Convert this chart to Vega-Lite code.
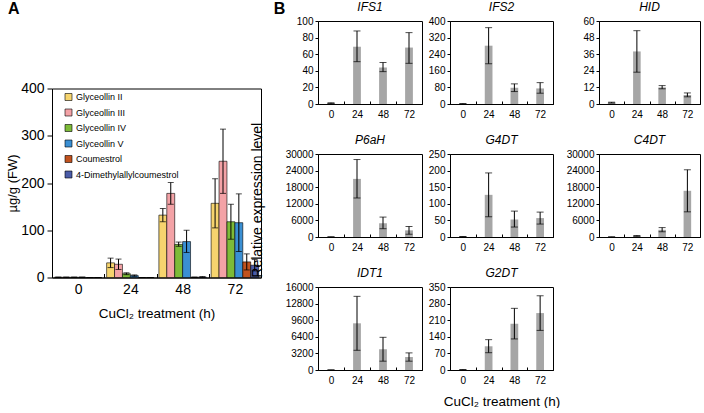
{
  "$schema": "https://vega.github.io/schema/vega-lite/v6.json",
  "padding": {"left": 5, "top": 0, "right": 0, "bottom": 0},
  "config": {
    "font": "Liberation Sans",
    "view": {"stroke": "#000", "strokeWidth": 1},
    "axis": {"grid": false, "domainColor": "#000", "domainWidth": 1, "tickColor": "#000", "labelColor": "#000", "titleColor": "#000", "titleFontWeight": "normal", "labelFontSize": 10, "titleFontSize": 13.5},
    "axisY": {"tickSize": 3, "labelPadding": 2, "labelOverlap": false},
    "axisX": {"tickSize": -3, "labelPadding": 8, "labelAngle": 0, "tickBand": "extent", "titlePadding": 9},
    "title": {"color": "#000", "fontSize": 12, "fontStyle": "italic", "fontWeight": "normal", "offset": 2, "anchor": "middle"},
    "legend": {"labelFontSize": 9, "labelColor": "#000", "symbolType": "square", "symbolSize": 49, "symbolStrokeColor": "#000", "symbolStrokeWidth": 0.6, "rowPadding": 4.5, "labelOffset": 3, "padding": 0}
  },
  "datasets": {
    "a": [
      {"t": 0, "c": "Glyceollin II", "m": 0.5, "lo": 0, "hi": 1},
      {"t": 0, "c": "Glyceollin III", "m": 0.5, "lo": 0, "hi": 1},
      {"t": 0, "c": "Glyceollin IV", "m": 0.5, "lo": 0, "hi": 1},
      {"t": 0, "c": "Glyceollin V", "m": 0.5, "lo": 0, "hi": 1},
      {"t": 0, "c": "Coumestrol", "m": 0, "lo": 0, "hi": 0},
      {"t": 0, "c": "4-Dimethylallylcoumestrol", "m": 0, "lo": 0, "hi": 0},
      {"t": 24, "c": "Glyceollin II", "m": 31, "lo": 21, "hi": 41},
      {"t": 24, "c": "Glyceollin III", "m": 28, "lo": 17, "hi": 39},
      {"t": 24, "c": "Glyceollin IV", "m": 8, "lo": 6, "hi": 10},
      {"t": 24, "c": "Glyceollin V", "m": 4, "lo": 2.5, "hi": 5.5},
      {"t": 24, "c": "Coumestrol", "m": 0, "lo": 0, "hi": 0},
      {"t": 24, "c": "4-Dimethylallylcoumestrol", "m": 0, "lo": 0, "hi": 0},
      {"t": 48, "c": "Glyceollin II", "m": 132, "lo": 118, "hi": 146},
      {"t": 48, "c": "Glyceollin III", "m": 178, "lo": 155, "hi": 201},
      {"t": 48, "c": "Glyceollin IV", "m": 70, "lo": 66, "hi": 75},
      {"t": 48, "c": "Glyceollin V", "m": 76, "lo": 53, "hi": 100},
      {"t": 48, "c": "Coumestrol", "m": 0.5, "lo": 0, "hi": 1},
      {"t": 48, "c": "4-Dimethylallylcoumestrol", "m": 1, "lo": 0, "hi": 2},
      {"t": 72, "c": "Glyceollin II", "m": 157, "lo": 105, "hi": 209},
      {"t": 72, "c": "Glyceollin III", "m": 246, "lo": 178, "hi": 314},
      {"t": 72, "c": "Glyceollin IV", "m": 118, "lo": 81, "hi": 155},
      {"t": 72, "c": "Glyceollin V", "m": 116, "lo": 55, "hi": 177},
      {"t": 72, "c": "Coumestrol", "m": 33, "lo": 16, "hi": 50},
      {"t": 72, "c": "4-Dimethylallylcoumestrol", "m": 26, "lo": 14, "hi": 38}
    ],
    "b": [
      {"g": "IFS1", "t": 0, "m": 1, "lo": 0.5, "hi": 1.5},
      {"g": "IFS1", "t": 24, "m": 69, "lo": 51, "hi": 88},
      {"g": "IFS1", "t": 48, "m": 44, "lo": 39, "hi": 50},
      {"g": "IFS1", "t": 72, "m": 68, "lo": 49, "hi": 86},
      {"g": "IFS2", "t": 0, "m": 1, "lo": 0, "hi": 2},
      {"g": "IFS2", "t": 24, "m": 281, "lo": 194, "hi": 368},
      {"g": "IFS2", "t": 48, "m": 78, "lo": 60, "hi": 97},
      {"g": "IFS2", "t": 72, "m": 75, "lo": 52, "hi": 103},
      {"g": "HID", "t": 0, "m": 1, "lo": 0.7, "hi": 1.3},
      {"g": "HID", "t": 24, "m": 38, "lo": 23, "hi": 53},
      {"g": "HID", "t": 48, "m": 12, "lo": 11, "hi": 13.3},
      {"g": "HID", "t": 72, "m": 6.5, "lo": 5.2, "hi": 8},
      {"g": "P6aH", "t": 0, "m": 30, "lo": 0, "hi": 60},
      {"g": "P6aH", "t": 24, "m": 21000, "lo": 14100, "hi": 28000},
      {"g": "P6aH", "t": 48, "m": 5000, "lo": 3000, "hi": 7200},
      {"g": "P6aH", "t": 72, "m": 2400, "lo": 1000, "hi": 3800},
      {"g": "G4DT", "t": 0, "m": 1, "lo": 0.5, "hi": 1.5},
      {"g": "G4DT", "t": 24, "m": 127, "lo": 61, "hi": 193},
      {"g": "G4DT", "t": 48, "m": 53, "lo": 30, "hi": 78},
      {"g": "G4DT", "t": 72, "m": 57, "lo": 39, "hi": 75},
      {"g": "C4DT", "t": 0, "m": 20, "lo": 0, "hi": 40},
      {"g": "C4DT", "t": 24, "m": 400, "lo": 250, "hi": 550},
      {"g": "C4DT", "t": 48, "m": 2600, "lo": 1900, "hi": 3400},
      {"g": "C4DT", "t": 72, "m": 16700, "lo": 9100, "hi": 24300},
      {"g": "IDT1", "t": 0, "m": 10, "lo": 0, "hi": 20},
      {"g": "IDT1", "t": 24, "m": 9000, "lo": 3800, "hi": 14200},
      {"g": "IDT1", "t": 48, "m": 4000, "lo": 1700, "hi": 6300},
      {"g": "IDT1", "t": 72, "m": 2500, "lo": 1700, "hi": 3300},
      {"g": "G2DT", "t": 0, "m": 1, "lo": 0, "hi": 2},
      {"g": "G2DT", "t": 24, "m": 100, "lo": 73, "hi": 128},
      {"g": "G2DT", "t": 48, "m": 195, "lo": 131, "hi": 260},
      {"g": "G2DT", "t": 72, "m": 240, "lo": 167, "hi": 313}
    ]
  },
  "columns": 2,
  "align": "none",
  "spacing": -12,
  "concat": [
    {
      "spacing": 58.5,
      "resolve": {"scale": {"color": "independent"}, "legend": {"color": "independent"}},
      "vconcat": [
        {
          "width": 209, "height": 1,
          "view": {"stroke": null},
          "title": {"text": "A", "anchor": "start", "frame": "group", "fontSize": 16, "fontWeight": "bold", "fontStyle": "normal", "offset": 4, "dx": -44},
          "data": {"values": []},
          "mark": {"type": "text"},
          "encoding": {"text": {"field": "lab", "type": "nominal"}}
        },
        {
          "width": 209, "height": 189,
          "data": {"name": "a"},
          "encoding": {
            "x": {"field": "t", "type": "ordinal", "title": "CuCl₂ treatment (h)", "scale": {"paddingInner": 0, "paddingOuter": 0},
                  "axis": {"labelFontSize": 14, "titleFontSize": 13.5, "tickSize": -4, "labelPadding": 9, "titlePadding": 10}},
            "xOffset": {"field": "c", "type": "nominal", "sort": ["Glyceollin II", "Glyceollin III", "Glyceollin IV", "Glyceollin V", "Coumestrol", "4-Dimethylallylcoumestrol"], "scale": {"paddingInner": 0, "paddingOuter": 0.3}}
          },
          "layer": [
            {
              "mark": {"type": "bar", "stroke": "#000", "strokeWidth": 0.6},
              "encoding": {
                "y": {"field": "m", "type": "quantitative", "title": "µg/g (FW)", "scale": {"domain": [0, 400], "nice": false},
                      "axis": {"values": [0, 100, 200, 300, 400], "labelFontSize": 14, "titleFontSize": 13, "tickSize": 5, "labelPadding": 3, "minExtent": 31, "maxExtent": 31, "titlePadding": 2}},
                "color": {"field": "c", "type": "nominal", "title": null,
                          "scale": {"domain": ["Glyceollin II", "Glyceollin III", "Glyceollin IV", "Glyceollin V", "Coumestrol", "4-Dimethylallylcoumestrol"],
                                    "range": ["#F6D46E", "#F3A2A6", "#7DBB38", "#3A8FD3", "#C1521E", "#4B5CA8"]},
                          "legend": {"orient": "none", "legendX": 12, "legendY": 4}}
              }
            },
            {
              "mark": {"type": "rule", "color": "#000", "strokeWidth": 1},
              "encoding": {"y": {"field": "lo", "type": "quantitative", "title": "µg/g (FW)", "axis": {"values": [0, 100, 200, 300, 400], "labelFontSize": 14, "titleFontSize": 13, "tickSize": 5, "labelPadding": 3, "minExtent": 31, "maxExtent": 31, "titlePadding": 2}}, "y2": {"field": "hi"}}
            },
            {
              "mark": {"type": "tick", "color": "#000", "size": 6, "thickness": 1},
              "encoding": {"y": {"field": "lo", "type": "quantitative", "title": "µg/g (FW)", "axis": {"values": [0, 100, 200, 300, 400], "labelFontSize": 14, "titleFontSize": 13, "tickSize": 5, "labelPadding": 3, "minExtent": 31, "maxExtent": 31, "titlePadding": 2}}}
            },
            {
              "mark": {"type": "tick", "color": "#000", "size": 6, "thickness": 1},
              "encoding": {"y": {"field": "hi", "type": "quantitative", "title": "µg/g (FW)", "axis": {"values": [0, 100, 200, 300, 400], "labelFontSize": 14, "titleFontSize": 13, "tickSize": 5, "labelPadding": 3, "minExtent": 31, "maxExtent": 31, "titlePadding": 2}}}
            }
          ]
        }
      ]
    },
    {
      "title": {"text": "B", "anchor": "start", "frame": "bounds", "fontSize": 16, "fontWeight": "bold", "fontStyle": "normal", "offset": -16, "dx": 23},
      "vconcat": [
        {
          "title": {"text": "Relative expression level", "orient": "left", "anchor": "middle", "fontSize": 14, "fontStyle": "normal", "offset": 20, "dx": 4},
          "columns": 3,
          "align": "each",
          "spacing": {"row": 13, "column": 4},
          "concat": [
            {
              "width": 104, "height": 83, "title": "IFS1", "data": {"name": "b"},
              "transform": [{"filter": "datum.g === 'IFS1'"}],
              "encoding": {"x": {"field": "t", "type": "ordinal", "title": null, "scale": {"paddingInner": 0, "paddingOuter": 0}}},
              "layer": [
                {"mark": {"type": "bar", "color": "#A6A6A6", "width": {"band": 0.3}},
                 "encoding": {"y": {"field": "m", "type": "quantitative", "title": null, "scale": {"domain": [0, 100], "nice": false}, "axis": {"values": [0, 20, 40, 60, 80, 100], "format": "d"}}}},
                {"mark": {"type": "rule", "color": "#000", "strokeWidth": 1}, "encoding": {"y": {"field": "lo", "type": "quantitative", "title": null, "axis": {"values": [0, 20, 40, 60, 80, 100], "format": "d"}}, "y2": {"field": "hi"}}},
                {"mark": {"type": "tick", "color": "#000", "size": 7, "thickness": 1}, "encoding": {"y": {"field": "lo", "type": "quantitative", "title": null, "axis": {"values": [0, 20, 40, 60, 80, 100], "format": "d"}}}},
                {"mark": {"type": "tick", "color": "#000", "size": 7, "thickness": 1}, "encoding": {"y": {"field": "hi", "type": "quantitative", "title": null, "axis": {"values": [0, 20, 40, 60, 80, 100], "format": "d"}}}}
              ]
            },
            {
              "width": 103, "height": 83, "title": "IFS2", "data": {"name": "b"},
              "transform": [{"filter": "datum.g === 'IFS2'"}],
              "encoding": {"x": {"field": "t", "type": "ordinal", "title": null, "scale": {"paddingInner": 0, "paddingOuter": 0}}},
              "layer": [
                {"mark": {"type": "bar", "color": "#A6A6A6", "width": {"band": 0.3}},
                 "encoding": {"y": {"field": "m", "type": "quantitative", "title": null, "scale": {"domain": [0, 400], "nice": false}, "axis": {"values": [0, 80, 160, 240, 320, 400], "format": "d"}}}},
                {"mark": {"type": "rule", "color": "#000", "strokeWidth": 1}, "encoding": {"y": {"field": "lo", "type": "quantitative", "title": null, "axis": {"values": [0, 80, 160, 240, 320, 400], "format": "d"}}, "y2": {"field": "hi"}}},
                {"mark": {"type": "tick", "color": "#000", "size": 7, "thickness": 1}, "encoding": {"y": {"field": "lo", "type": "quantitative", "title": null, "axis": {"values": [0, 80, 160, 240, 320, 400], "format": "d"}}}},
                {"mark": {"type": "tick", "color": "#000", "size": 7, "thickness": 1}, "encoding": {"y": {"field": "hi", "type": "quantitative", "title": null, "axis": {"values": [0, 80, 160, 240, 320, 400], "format": "d"}}}}
              ]
            },
            {
              "width": 101, "height": 83, "title": "HID", "data": {"name": "b"},
              "transform": [{"filter": "datum.g === 'HID'"}],
              "encoding": {"x": {"field": "t", "type": "ordinal", "title": null, "scale": {"paddingInner": 0, "paddingOuter": 0}}},
              "layer": [
                {"mark": {"type": "bar", "color": "#A6A6A6", "width": {"band": 0.3}},
                 "encoding": {"y": {"field": "m", "type": "quantitative", "title": null, "scale": {"domain": [0, 60], "nice": false}, "axis": {"values": [0, 12, 24, 36, 48, 60], "format": "d"}}}},
                {"mark": {"type": "rule", "color": "#000", "strokeWidth": 1}, "encoding": {"y": {"field": "lo", "type": "quantitative", "title": null, "axis": {"values": [0, 12, 24, 36, 48, 60], "format": "d"}}, "y2": {"field": "hi"}}},
                {"mark": {"type": "tick", "color": "#000", "size": 7, "thickness": 1}, "encoding": {"y": {"field": "lo", "type": "quantitative", "title": null, "axis": {"values": [0, 12, 24, 36, 48, 60], "format": "d"}}}},
                {"mark": {"type": "tick", "color": "#000", "size": 7, "thickness": 1}, "encoding": {"y": {"field": "hi", "type": "quantitative", "title": null, "axis": {"values": [0, 12, 24, 36, 48, 60], "format": "d"}}}}
              ]
            },
            {
              "width": 104, "height": 83, "title": "P6aH", "data": {"name": "b"},
              "transform": [{"filter": "datum.g === 'P6aH'"}],
              "encoding": {"x": {"field": "t", "type": "ordinal", "title": null, "scale": {"paddingInner": 0, "paddingOuter": 0}}},
              "layer": [
                {"mark": {"type": "bar", "color": "#A6A6A6", "width": {"band": 0.3}},
                 "encoding": {"y": {"field": "m", "type": "quantitative", "title": null, "scale": {"domain": [0, 30000], "nice": false}, "axis": {"values": [0, 6000, 12000, 18000, 24000, 30000], "format": "d"}}}},
                {"mark": {"type": "rule", "color": "#000", "strokeWidth": 1}, "encoding": {"y": {"field": "lo", "type": "quantitative", "title": null, "axis": {"values": [0, 6000, 12000, 18000, 24000, 30000], "format": "d"}}, "y2": {"field": "hi"}}},
                {"mark": {"type": "tick", "color": "#000", "size": 7, "thickness": 1}, "encoding": {"y": {"field": "lo", "type": "quantitative", "title": null, "axis": {"values": [0, 6000, 12000, 18000, 24000, 30000], "format": "d"}}}},
                {"mark": {"type": "tick", "color": "#000", "size": 7, "thickness": 1}, "encoding": {"y": {"field": "hi", "type": "quantitative", "title": null, "axis": {"values": [0, 6000, 12000, 18000, 24000, 30000], "format": "d"}}}}
              ]
            },
            {
              "width": 103, "height": 83, "title": "G4DT", "data": {"name": "b"},
              "transform": [{"filter": "datum.g === 'G4DT'"}],
              "encoding": {"x": {"field": "t", "type": "ordinal", "title": null, "scale": {"paddingInner": 0, "paddingOuter": 0}}},
              "layer": [
                {"mark": {"type": "bar", "color": "#A6A6A6", "width": {"band": 0.3}},
                 "encoding": {"y": {"field": "m", "type": "quantitative", "title": null, "scale": {"domain": [0, 250], "nice": false}, "axis": {"values": [0, 50, 100, 150, 200, 250], "format": "d"}}}},
                {"mark": {"type": "rule", "color": "#000", "strokeWidth": 1}, "encoding": {"y": {"field": "lo", "type": "quantitative", "title": null, "axis": {"values": [0, 50, 100, 150, 200, 250], "format": "d"}}, "y2": {"field": "hi"}}},
                {"mark": {"type": "tick", "color": "#000", "size": 7, "thickness": 1}, "encoding": {"y": {"field": "lo", "type": "quantitative", "title": null, "axis": {"values": [0, 50, 100, 150, 200, 250], "format": "d"}}}},
                {"mark": {"type": "tick", "color": "#000", "size": 7, "thickness": 1}, "encoding": {"y": {"field": "hi", "type": "quantitative", "title": null, "axis": {"values": [0, 50, 100, 150, 200, 250], "format": "d"}}}}
              ]
            },
            {
              "width": 101, "height": 83, "title": "C4DT", "data": {"name": "b"},
              "transform": [{"filter": "datum.g === 'C4DT'"}],
              "encoding": {"x": {"field": "t", "type": "ordinal", "title": null, "scale": {"paddingInner": 0, "paddingOuter": 0}}},
              "layer": [
                {"mark": {"type": "bar", "color": "#A6A6A6", "width": {"band": 0.3}},
                 "encoding": {"y": {"field": "m", "type": "quantitative", "title": null, "scale": {"domain": [0, 30000], "nice": false}, "axis": {"values": [0, 6000, 12000, 18000, 24000, 30000], "format": "d"}}}},
                {"mark": {"type": "rule", "color": "#000", "strokeWidth": 1}, "encoding": {"y": {"field": "lo", "type": "quantitative", "title": null, "axis": {"values": [0, 6000, 12000, 18000, 24000, 30000], "format": "d"}}, "y2": {"field": "hi"}}},
                {"mark": {"type": "tick", "color": "#000", "size": 7, "thickness": 1}, "encoding": {"y": {"field": "lo", "type": "quantitative", "title": null, "axis": {"values": [0, 6000, 12000, 18000, 24000, 30000], "format": "d"}}}},
                {"mark": {"type": "tick", "color": "#000", "size": 7, "thickness": 1}, "encoding": {"y": {"field": "hi", "type": "quantitative", "title": null, "axis": {"values": [0, 6000, 12000, 18000, 24000, 30000], "format": "d"}}}}
              ]
            },
            {
              "width": 104, "height": 83, "title": "IDT1", "data": {"name": "b"},
              "transform": [{"filter": "datum.g === 'IDT1'"}],
              "encoding": {"x": {"field": "t", "type": "ordinal", "title": null, "scale": {"paddingInner": 0, "paddingOuter": 0}}},
              "layer": [
                {"mark": {"type": "bar", "color": "#A6A6A6", "width": {"band": 0.3}},
                 "encoding": {"y": {"field": "m", "type": "quantitative", "title": null, "scale": {"domain": [0, 16000], "nice": false}, "axis": {"values": [0, 3200, 6400, 9600, 12800, 16000], "format": "d"}}}},
                {"mark": {"type": "rule", "color": "#000", "strokeWidth": 1}, "encoding": {"y": {"field": "lo", "type": "quantitative", "title": null, "axis": {"values": [0, 3200, 6400, 9600, 12800, 16000], "format": "d"}}, "y2": {"field": "hi"}}},
                {"mark": {"type": "tick", "color": "#000", "size": 7, "thickness": 1}, "encoding": {"y": {"field": "lo", "type": "quantitative", "title": null, "axis": {"values": [0, 3200, 6400, 9600, 12800, 16000], "format": "d"}}}},
                {"mark": {"type": "tick", "color": "#000", "size": 7, "thickness": 1}, "encoding": {"y": {"field": "hi", "type": "quantitative", "title": null, "axis": {"values": [0, 3200, 6400, 9600, 12800, 16000], "format": "d"}}}}
              ]
            },
            {
              "width": 103, "height": 83, "title": "G2DT", "data": {"name": "b"},
              "transform": [{"filter": "datum.g === 'G2DT'"}],
              "encoding": {"x": {"field": "t", "type": "ordinal", "title": "CuCl₂ treatment (h)", "scale": {"paddingInner": 0, "paddingOuter": 0}}},
              "layer": [
                {"mark": {"type": "bar", "color": "#A6A6A6", "width": {"band": 0.3}},
                 "encoding": {"y": {"field": "m", "type": "quantitative", "title": null, "scale": {"domain": [0, 350], "nice": false}, "axis": {"values": [0, 70, 140, 210, 280, 350], "format": "d"}}}},
                {"mark": {"type": "rule", "color": "#000", "strokeWidth": 1}, "encoding": {"y": {"field": "lo", "type": "quantitative", "title": null, "axis": {"values": [0, 70, 140, 210, 280, 350], "format": "d"}}, "y2": {"field": "hi"}}},
                {"mark": {"type": "tick", "color": "#000", "size": 7, "thickness": 1}, "encoding": {"y": {"field": "lo", "type": "quantitative", "title": null, "axis": {"values": [0, 70, 140, 210, 280, 350], "format": "d"}}}},
                {"mark": {"type": "tick", "color": "#000", "size": 7, "thickness": 1}, "encoding": {"y": {"field": "hi", "type": "quantitative", "title": null, "axis": {"values": [0, 70, 140, 210, 280, 350], "format": "d"}}}}
              ]
            }
          ]
        }
      ]
    }
  ]
}
